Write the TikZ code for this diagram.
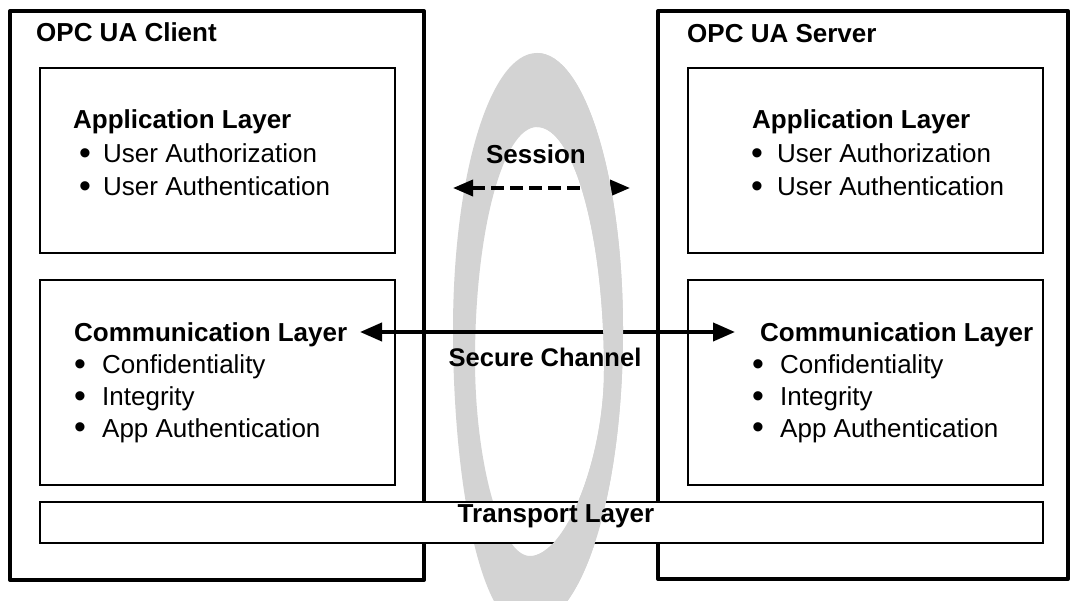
\documentclass[tikz,border=0pt]{standalone}
\usepackage{fontspec}
\usepackage{graphicx}
\setmainfont{Liberation Sans}
\usetikzlibrary{arrows.meta}
\definecolor{ringgray}{RGB}{211,211,211}
\newcommand\bul[2]{\makebox[#1][l]{\raisebox{-1.6pt}{\scalebox{1.3}{\textbullet}}}#2}
% outline of the channel ring: outer edge, then the hole
\newcommand\ringpath{%
  (537,53) .. controls (584.5,53) and (623,177) .. (623,330)
  .. controls (623,490) and (584,628) .. (525,628)
  .. controls (480,628) and (453,480) .. (453,330)
  .. controls (453,177) and (489.5,53) .. (537,53) -- cycle
  (537,127) .. controls (574,127) and (604,236) .. (604,370)
  .. controls (604,460) and (565,556) .. (530,556)
  .. controls (500,556) and (475,460) .. (475,360)
  .. controls (475,231) and (503,127) .. (537,127) -- cycle}
\begin{document}
\begin{tikzpicture}[x=1pt,y=-1pt,
  outerbox/.style={draw, line width=4pt, line join=round, inner sep=0pt, outer sep=0pt, anchor=north west},
  layerbox/.style={draw, line width=1.6pt, inner sep=0pt, outer sep=0pt, anchor=north west},
  head/.style={font=\fontsize{26}{31}\selectfont\bfseries, anchor=base west, inner sep=0pt},
  item/.style={font=\fontsize{26}{31}\selectfont, anchor=base west, inner sep=0pt},
  midlabel/.style={font=\fontsize{26}{31}\selectfont\bfseries, anchor=base, inner sep=0pt},
  link/.style={line width=4pt, {Triangle[length=22pt,width=18pt]}-{Triangle[length=22pt,width=18pt]}},
  sessionlink/.style={line width=3.5pt, dash pattern=on 13pt off 6pt, {Triangle[length=20pt,width=16pt]}-{Triangle[length=20pt,width=16pt]}},
  ring/.style={fill=ringgray, even odd rule}
]
\clip (0,0) rectangle (1071,601);
\fill[white] (0,0) rectangle (1071,601);

% the ring, drawn whole first so its left band lies behind everything
\fill[ring] \ringpath;

% client and server frames
\node[outerbox, minimum width=414pt, minimum height=569pt] (client) at (10,11) {};
\node[outerbox, minimum width=410pt, minimum height=568pt] (server) at (658,11) {};

% layer boxes
\node[layerbox, minimum width=355pt, minimum height=185pt] (capp) at (40,68) {};
\node[layerbox, minimum width=355pt, minimum height=205pt] (ccomm) at (40,280) {};
\node[layerbox, minimum width=355pt, minimum height=185pt] (sapp) at (688,68) {};
\node[layerbox, minimum width=355pt, minimum height=205pt] (scomm) at (688,280) {};
\node[layerbox, fill=white, minimum width=1003pt, minimum height=41pt] (transport) at (40,502) {};

% connectors
\coordinate (sess-l) at (453,188);
\coordinate (sess-r) at (630,188);
\coordinate (sc-l) at (360,332);
\coordinate (sc-r) at (735,332);
\draw[sessionlink] (sess-l) -- (sess-r);
\draw[link] (sc-l) -- (sc-r);

% right band of the ring passes in front
\begin{scope}
  \clip (537,0) rectangle (1071,601);
  \fill[ring] \ringpath;
\end{scope}

% texts
\node[head] (ctitle) at (36,42) {OPC UA Client};
\node[head] (stitle) at (687,43) {OPC UA Server};

\node[head] (cappt) at (73,129) {Application Layer};
\node[item] (cappa) at (79,163) {\bul{24pt}{User Authorization}};
\node[item] (cappb) at (79,196) {\bul{24pt}{User Authentication}};

\node[head] (ccommt) at (74,342) {Communication Layer};
\node[item] (ccomma) at (74,374) {\bul{28pt}{Confidentiality}};
\node[item] (ccommb) at (74,406) {\bul{28pt}{Integrity}};
\node[item] (ccommc) at (74,437) {\bul{28pt}{App Authentication}};

\node[head] (sappt) at (752,129) {Application Layer};
\node[item] (sappa) at (751,163) {\bul{26pt}{User Authorization}};
\node[item] (sappb) at (751,196) {\bul{26pt}{User Authentication}};

\node[head] (scommt) at (760,342) {Communication Layer};
\node[item] (scomma) at (752,374) {\bul{28pt}{Confidentiality}};
\node[item] (scommb) at (752,406) {\bul{28pt}{Integrity}};
\node[item] (scommc) at (752,437) {\bul{28pt}{App Authentication}};

\node[midlabel] (session) at (536,164) {Session};
\node[midlabel, font=\fontsize{25.5}{30}\selectfont\bfseries] (secure) at (545,367) {Secure Channel};
\node[midlabel] (transportt) at (556,522) {Transport Layer};
\end{tikzpicture}
\end{document}
